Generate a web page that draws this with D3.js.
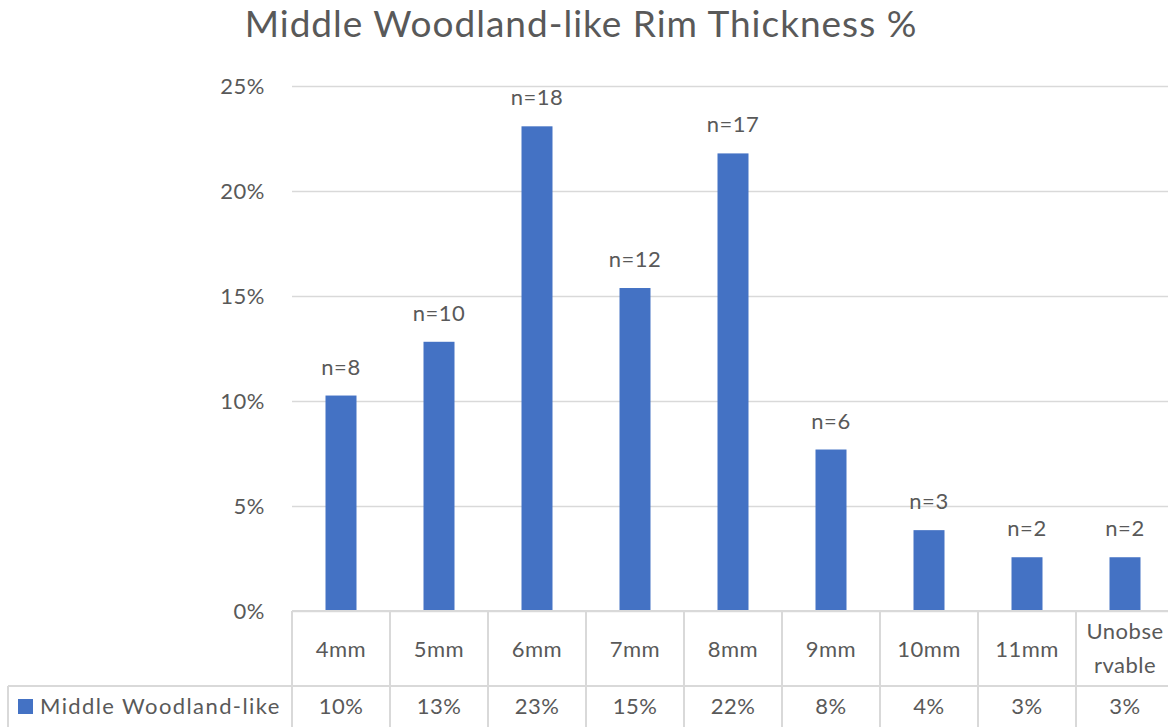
<!DOCTYPE html>
<html>
<head>
<meta charset="utf-8">
<script src="https://cdn.jsdelivr.net/npm/d3@7"></script>
<style>
  body { margin: 0; background: #fff; overflow: hidden; }
  text { font-family: Lato, "Open Sans", sans-serif; fill: #595959; }
</style>
</head>
<body>
<div id="chart"></div>
<script>
// data
const CATEGORIES = ["4mm", "5mm", "6mm", "7mm", "8mm", "9mm", "10mm", "11mm", "Unobservable"];
const CATEGORY_LINES = [["4mm"], ["5mm"], ["6mm"], ["7mm"], ["8mm"], ["9mm"], ["10mm"], ["11mm"], ["Unobse", "rvable"]];
const VALUES = [0.1026, 0.1282, 0.2308, 0.1538, 0.2179, 0.0769, 0.0385, 0.0256, 0.0256];
const COUNTS = ["n=8", "n=10", "n=18", "n=12", "n=17", "n=6", "n=3", "n=2", "n=2"];
const TABLE_LABELS = ["10%", "13%", "23%", "15%", "22%", "8%", "4%", "3%", "3%"];
const Y_TICKS = [0, 0.05, 0.10, 0.15, 0.20, 0.25];
const SERIES_NAME = "Middle Woodland-like";
const TITLE = "Middle Woodland-like Rim Thickness %";

const W = 1168, H = 727;
const PLOT = { left: 292, right: 1174, top: 86, bottom: 611 };
const HEADER_BOTTOM = 686;
const ROW_BOTTOM = 740;
const BLUE = "#4472C4";
const GRID = "#d9d9d9";
const FS = 22;

const svg = d3.select("#chart").append("svg")
    .attr("width", W)
    .attr("height", H);

// scales
const x = d3.scaleBand()
    .domain(CATEGORIES)
    .range([PLOT.left, PLOT.right])
    .padding(0);

const y = d3.scaleLinear()
    .domain([0, 0.25])
    .range([PLOT.bottom, PLOT.top]);

// title
svg.append("text")
    .attr("x", 581)
    .attr("y", 37)
    .attr("text-anchor", "middle")
    .attr("font-size", 37)
    .attr("letter-spacing", 1)
    .text(TITLE);

// gridlines + y labels
const yAxis = svg.append("g")
    .attr("transform", `translate(${PLOT.left},0)`)
    .call(d3.axisLeft(y).tickValues(Y_TICKS).tickFormat(d3.format(".0%")).tickSize(-(PLOT.right - PLOT.left)).tickPadding(27));
yAxis.select(".domain").remove();
yAxis.selectAll(".tick line").attr("stroke", GRID).attr("stroke-width", 1.5);
yAxis.selectAll(".tick text")
    .attr("font-size", FS)
    .attr("letter-spacing", 0.5)
    .attr("fill", "#595959")
    .attr("font-family", "Lato, 'Open Sans', sans-serif");

// bars
const barW = 31;
svg.selectAll(".bar")
    .data(VALUES)
    .enter()
    .append("rect")
    .attr("class", "bar")
    .attr("x", (d, i) => x(CATEGORIES[i]) + x.bandwidth() / 2 - barW / 2)
    .attr("y", d => y(d))
    .attr("width", barW)
    .attr("height", d => y(0) - y(d))
    .attr("fill", BLUE);

// n labels
svg.selectAll(".nlab")
    .data(VALUES)
    .enter()
    .append("text")
    .attr("class", "nlab")
    .attr("x", (d, i) => x(CATEGORIES[i]) + x.bandwidth() / 2)
    .attr("y", d => y(d) - 21)
    .attr("text-anchor", "middle")
    .attr("font-size", FS)
    .attr("letter-spacing", 0.5)
    .text((d, i) => COUNTS[i]);

// data table
const table = svg.append("g").attr("fill", "none").attr("stroke", GRID).attr("stroke-width", 2);
table.append("line").attr("x1", PLOT.left).attr("x2", W).attr("y1", PLOT.bottom).attr("y2", PLOT.bottom);
table.append("line").attr("x1", 8).attr("x2", W).attr("y1", HEADER_BOTTOM).attr("y2", HEADER_BOTTOM);
table.append("line").attr("x1", 8).attr("x2", 8).attr("y1", HEADER_BOTTOM).attr("y2", ROW_BOTTOM);
table.selectAll(".sep")
    .data(CATEGORIES)
    .enter()
    .append("line")
    .attr("x1", d => x(d))
    .attr("x2", d => x(d))
    .attr("y1", PLOT.bottom)
    .attr("y2", ROW_BOTTOM);

// header labels
const header = svg.selectAll(".hdr")
    .data(CATEGORY_LINES)
    .enter()
    .append("text")
    .attr("class", "hdr")
    .attr("text-anchor", "middle")
    .attr("font-size", FS)
    .attr("letter-spacing", 0.5)
    .attr("x", (d, i) => x(CATEGORIES[i]) + x.bandwidth() / 2)
    .attr("y", d => d.length === 1 ? 657 : 639);
header.selectAll("tspan")
    .data(d => d)
    .enter()
    .append("tspan")
    .attr("x", function() { return d3.select(this.parentNode).attr("x"); })
    .attr("dy", (d, i) => i === 0 ? 0 : 34)
    .text(d => d);

// value row
svg.selectAll(".val")
    .data(TABLE_LABELS)
    .enter()
    .append("text")
    .attr("class", "val")
    .attr("x", (d, i) => x(CATEGORIES[i]) + x.bandwidth() / 2)
    .attr("y", 714)
    .attr("text-anchor", "middle")
    .attr("font-size", FS)
    .attr("letter-spacing", 0.5)
    .text(d => d);

// legend key in the table row
svg.append("rect")
    .attr("x", 18)
    .attr("y", 699)
    .attr("width", 15)
    .attr("height", 15)
    .attr("fill", BLUE);
svg.append("text")
    .attr("x", 40)
    .attr("y", 714)
    .attr("font-size", FS)
    .attr("letter-spacing", 1.4)
    .text(SERIES_NAME);
</script>
</body>
</html>
